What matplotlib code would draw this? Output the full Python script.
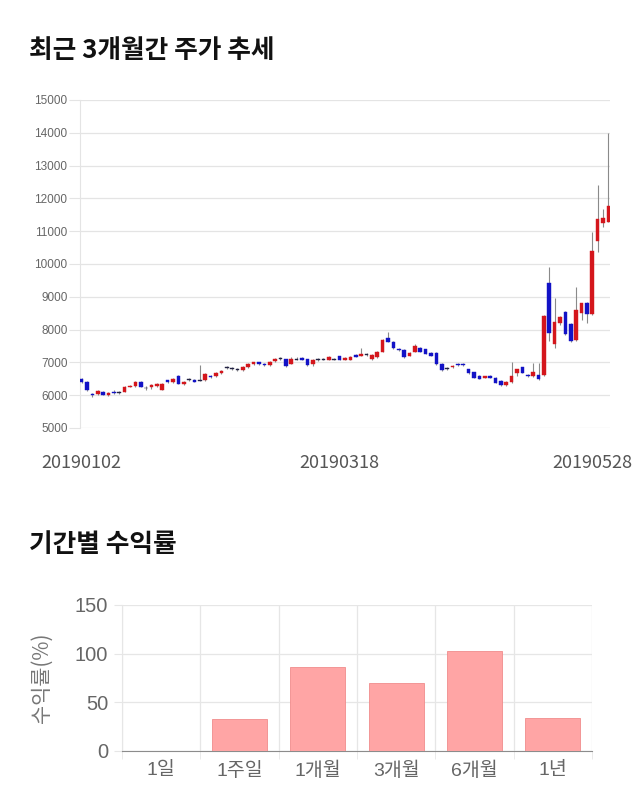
import numpy as np
import matplotlib
matplotlib.use("Agg")
import matplotlib.pyplot as plt

plt.rcParams['font.family'] = ['Noto Sans CJK KR', 'DejaVu Sans']

# --- daily candles, 2019-01-02 .. 2019-05-28 ---
opens = [6500, 6400, 6050, 6040, 6100, 6010, 6110, 6080, 6100, 6260,
         6270, 6400, 6220, 6260, 6290, 6170, 6450, 6400, 6600, 6350,
         6480, 6460, 6460, 6460, 6600, 6590, 6680, 6840, 6820, 6790,
         6770, 6860, 6960, 7000, 6960, 6910, 7030, 7110, 7090, 6960,
         7100, 7140, 7090, 6940, 7080, 7100, 7080, 7100, 7190, 7080,
         7080, 7240, 7210, 7240, 7090, 7160, 7330, 7730, 7630, 7420,
         7380, 7200, 7330, 7440, 7400, 7300, 7300, 6950, 6820, 6850,
         6960, 6950, 6790, 6700, 6600, 6530, 6600, 6530, 6430, 6300,
         6400, 6670, 6850, 6630, 6590, 6610, 6620, 9410, 7550, 8200,
         8530, 8170, 7680, 8500, 8810, 8480, 10710, 11260, 11290]
closes = [6400, 6150, 6000, 6130, 6020, 6070, 6060, 6080, 6250, 6290,
          6400, 6260, 6220, 6310, 6350, 6350, 6400, 6500, 6350, 6410,
          6480, 6410, 6460, 6650, 6560, 6680, 6740, 6840, 6820, 6790,
          6870, 6940, 7000, 6960, 6910, 7010, 7110, 7110, 6890, 7110,
          7100, 7080, 6910, 7080, 7080, 7100, 7160, 7100, 7080, 7140,
          7160, 7170, 7260, 7240, 7230, 7310, 7680, 7630, 7450, 7380,
          7160, 7300, 7500, 7330, 7270, 7200, 6950, 6770, 6820, 6900,
          6920, 6920, 6670, 6530, 6500, 6580, 6530, 6380, 6300, 6400,
          6600, 6790, 6690, 6580, 6700, 6480, 8420, 7890, 8240, 8370,
          7860, 7650, 8600, 8800, 8480, 10410, 11360, 11390, 11770]
highs = [6520, 6420, 6080, 6150, 6130, 6100, 6150, 6130, 6270, 6310,
         6420, 6420, 6270, 6340, 6380, 6380, 6470, 6530, 6620, 6440,
         6520, 6480, 6920, 6680, 6620, 6700, 6760, 6890, 6870, 6840,
         6900, 6970, 7020, 7020, 6990, 7030, 7130, 7160, 7110, 7170,
         7150, 7170, 7110, 7100, 7120, 7140, 7180, 7140, 7210, 7160,
         7180, 7260, 7430, 7280, 7250, 7340, 7700, 7940, 7650, 7440,
         7400, 7320, 7570, 7460, 7420, 7320, 7320, 6970, 6850, 6920,
         6980, 6970, 6810, 6720, 6620, 6600, 6620, 6550, 6450, 6420,
         7010, 6810, 6870, 6650, 6990, 6990, 8440, 9920, 8960, 8400,
         8560, 8200, 9310, 8820, 8830, 10990, 12410, 11670, 13980]
lows = [6380, 6130, 5930, 6000, 6000, 5980, 6040, 6040, 6090, 6240,
        6250, 6240, 6170, 6200, 6260, 6150, 6380, 6380, 6330, 6320,
        6440, 6390, 6440, 6440, 6520, 6570, 6660, 6800, 6780, 6740,
        6740, 6830, 6930, 6920, 6890, 6890, 7010, 7070, 6870, 6940,
        7060, 7060, 6890, 6900, 7040, 7060, 7060, 7070, 7060, 7060,
        7060, 7150, 7190, 7200, 7070, 7140, 7310, 7610, 7420, 7360,
        7140, 7180, 7310, 7310, 7250, 7180, 6930, 6750, 6770, 6830,
        6900, 6900, 6650, 6510, 6480, 6510, 6510, 6360, 6280, 6280,
        6380, 6600, 6670, 6560, 6570, 6460, 6580, 7640, 7440, 8150,
        7840, 7630, 7660, 8300, 8200, 8450, 10380, 11120, 11270]
date_ticks = [0, 48, 95]
date_labels = ["20190102", "20190318", "20190528"]

# --- period returns ---
periods = ["1일", "1주일", "1개월", "3개월", "6개월", "1년"]
returns = [0.0, 33.1, 86.4, 69.7, 102.5, 34.2]

W, H = 640, 810
fig = plt.figure(figsize=(W / 100, H / 100), dpi=100)

def box(l, t, r, b):
    return [l / W, 1 - b / H, (r - l) / W, (b - t) / H]

fig.text(29 / W, 1 - 50 / H, "최근 3개월간 주가 추세", fontsize=18.5, fontweight="bold",
         va="center", ha="left", color="#111111")
fig.text(29 / W, 1 - 545 / H, "기간별 수익률", fontsize=18.5, fontweight="bold",
         va="center", ha="left", color="#111111")

num_font = ['Liberation Sans', 'Noto Sans CJK KR']

# --- candlestick chart ---
ax = fig.add_axes(box(80, 100, 610, 428))
up_c, down_c = "#d4161c", "#1212c6"
x = np.arange(len(opens))
for i in x:
    o, c, h, l = opens[i], closes[i], highs[i], lows[i]
    ax.vlines(i, l, h, color="#8a8a8a", linewidth=0.8, zorder=2)
    if c > o:
        col = up_c
    elif c < o:
        col = down_c
    else:
        col = "#222244"
    bottom = min(o, c)
    height = max(abs(c - o), 25)
    ax.bar(i, height, bottom=bottom - (height - abs(c - o)) / 2 if c == o else bottom,
           width=0.66, color=col, edgecolor=col, linewidth=0.3, zorder=3)

ax.set_xlim(-0.3, 98.3)
ax.set_ylim(5000, 15000)
ax.set_yticks(np.arange(5000, 15001, 1000))
ax.grid(axis="y", color="#e4e4e4", linewidth=0.9)
ax.set_axisbelow(True)
for s in ["top", "right", "bottom"]:
    ax.spines[s].set_visible(False)
ax.spines["left"].set_color("#e4e4e4")
ax.tick_params(axis="y", labelsize=8.5, colors="#666666", length=8, color="#e4e4e4", pad=1)
for t in ax.get_yticklabels():
    t.set_family(num_font)
ax.set_xticks(date_ticks)
ax.set_xticklabels(date_labels)
ax.tick_params(axis="x", labelsize=13, colors="#555555", length=0, pad=19)

# --- returns bar chart ---
ax2 = fig.add_axes(box(122, 605, 592, 751))
pos = np.arange(len(periods))
ax2.bar(pos, returns, width=0.7, color="#ffa5a5", edgecolor="#f08c8c", linewidth=0.6, zorder=3)
ax2.set_xlim(-0.5, len(periods) - 0.5)
ax2.set_ylim(0, 150)
ax2.set_yticks([0, 50, 100, 150])
ax2.set_xticks(pos)
ax2.set_xticklabels(periods)
ax2.set_xticks(np.arange(-0.5, len(periods), 1), minor=True)
ax2.grid(axis="y", color="#e6e6e6", linewidth=0.9)
ax2.grid(axis="x", which="minor", color="#e6e6e6", linewidth=0.9)
ax2.set_axisbelow(True)
ax2.tick_params(axis="x", which="major", length=0, labelsize=14, colors="#666666", pad=8)
ax2.tick_params(axis="x", which="minor", length=6, color="#e6e6e6")
ax2.tick_params(axis="y", labelsize=14.5, colors="#666666", length=6, color="#e6e6e6", pad=4)
for t in ax2.get_yticklabels() + ax2.get_xticklabels():
    t.set_family(num_font)
for s in ["top", "right"]:
    ax2.spines[s].set_visible(False)
ax2.spines["left"].set_color("#e6e6e6")
ax2.spines["bottom"].set_color("#8c8c8c")
ax2.set_ylabel("수익률(%)", fontsize=15, color="#777777", labelpad=16)

fig.savefig("out.png", dpi=100)
